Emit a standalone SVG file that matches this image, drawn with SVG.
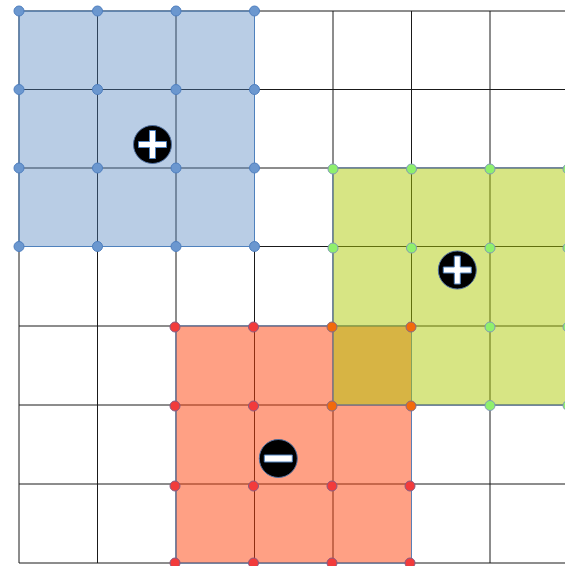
<svg xmlns="http://www.w3.org/2000/svg" width="565" height="566" viewBox="0 0 565 566">
<style>
.grid line{stroke:#1a1a1a;stroke-width:1}
.dot{stroke-width:1}
.b{fill:#6b97cf;stroke:#4f7fbf}
.g{fill:#8ff06c;stroke:#7f9cb4}
.r{fill:#f23b3b;stroke:#8a5a80}
.o{fill:#f26a0c;stroke:#8a6a80}
.sign circle{fill:#000;stroke:#4f6f9f;stroke-width:1}
.sign path{fill:#fff;stroke:#4f81bd;stroke-width:1}
</style>
<rect width="565" height="566" fill="#fff"/>
<g id="grid" class="grid">
<line x1="19" y1="11" x2="19" y2="563"/>
<line x1="97.5" y1="11" x2="97.5" y2="563"/>
<line x1="176" y1="11" x2="176" y2="563"/>
<line x1="254.5" y1="11" x2="254.5" y2="563"/>
<line x1="333" y1="11" x2="333" y2="563"/>
<line x1="411.5" y1="11" x2="411.5" y2="563"/>
<line x1="490" y1="11" x2="490" y2="563"/>
<line x1="19" y1="11" x2="565" y2="11"/>
<line x1="19" y1="89.5" x2="565" y2="89.5"/>
<line x1="19" y1="168" x2="565" y2="168"/>
<line x1="19" y1="246.5" x2="565" y2="246.5"/>
<line x1="19" y1="326" x2="565" y2="326"/>
<line x1="19" y1="405" x2="565" y2="405"/>
<line x1="19" y1="484" x2="565" y2="484"/>
<line x1="19" y1="563" x2="565" y2="563"/>
</g>
<g id="region-blue">
<rect x="19" y="11" width="235.5" height="235.5" fill="#4f81bd" fill-opacity="0.4" stroke="#4f81bd" stroke-width="1"/>
</g>
<g id="region-red">
<rect x="176" y="326" width="235.5" height="237" fill="#ff4109" fill-opacity="0.5" stroke="#5b7fb5" stroke-width="1"/>
</g>
<g id="region-green">
<rect x="333" y="168" width="236" height="237" fill="#acc900" fill-opacity="0.484" stroke="#5b7fb5" stroke-width="1"/>
</g>
<g id="dots-blue" class="dot">
<circle class="b" cx="19" cy="11" r="5"/><circle class="b" cx="97.5" cy="11" r="5"/><circle class="b" cx="176" cy="11" r="5"/><circle class="b" cx="254.5" cy="11" r="5"/>
<circle class="b" cx="19" cy="89.5" r="5"/><circle class="b" cx="97.5" cy="89.5" r="5"/><circle class="b" cx="176" cy="89.5" r="5"/><circle class="b" cx="254.5" cy="89.5" r="5"/>
<circle class="b" cx="19" cy="168" r="5"/><circle class="b" cx="97.5" cy="168" r="5"/><circle class="b" cx="176" cy="168" r="5"/><circle class="b" cx="254.5" cy="168" r="5"/>
<circle class="b" cx="19" cy="246.5" r="5"/><circle class="b" cx="97.5" cy="246.5" r="5"/><circle class="b" cx="176" cy="246.5" r="5"/><circle class="b" cx="254.5" cy="246.5" r="5"/>
</g>
<g id="dots-green" class="dot">
<circle class="g" cx="333" cy="169" r="5"/><circle class="g" cx="411.5" cy="169" r="5"/><circle class="g" cx="490" cy="169" r="5"/><circle class="g" cx="568" cy="169" r="5"/>
<circle class="g" cx="333" cy="248" r="5"/><circle class="g" cx="411.5" cy="248" r="5"/><circle class="g" cx="490" cy="248" r="5"/><circle class="g" cx="568" cy="248" r="5"/>
<circle class="g" cx="490" cy="327" r="5"/><circle class="g" cx="568" cy="327" r="5"/>
<circle class="g" cx="490" cy="405.5" r="5"/><circle class="g" cx="568" cy="405.5" r="5"/>
</g>
<g id="dots-red" class="dot">
<circle class="r" cx="175" cy="327" r="5"/><circle class="r" cx="253.5" cy="327" r="5"/>
<circle class="r" cx="175" cy="406" r="5"/><circle class="r" cx="253.5" cy="406" r="5"/>
<circle class="r" cx="175" cy="486" r="5"/><circle class="r" cx="253.5" cy="486" r="5"/><circle class="r" cx="332" cy="486" r="5"/><circle class="r" cx="410" cy="486" r="5"/>
<circle class="r" cx="175" cy="563" r="5"/><circle class="r" cx="253.5" cy="563" r="5"/><circle class="r" cx="332" cy="563" r="5"/><circle class="r" cx="410" cy="563" r="5"/>
</g>
<g id="dots-overlap" class="dot">
<circle class="o" cx="332" cy="327" r="5"/><circle class="o" cx="411" cy="327" r="5"/>
<circle class="o" cx="332" cy="406" r="5"/><circle class="o" cx="411" cy="406" r="5"/>
</g>
<g id="sign-blue" class="sign">
<circle cx="152.5" cy="144.5" r="19"/>
<path d="M149.5 130.5h6v11h11v6h-11v11h-6v-11h-11v-6h11z"/>
</g>
<g id="sign-green" class="sign">
<circle cx="457.3" cy="270" r="19"/>
<path d="M454.3 256h6v11h11v6h-11v11h-6v-11h-11v-6h11z"/>
</g>
<g id="sign-red" class="sign">
<circle cx="278.3" cy="458.5" r="19"/>
<path d="M264.3 455h28v7h-28z"/>
</g>
</svg>
